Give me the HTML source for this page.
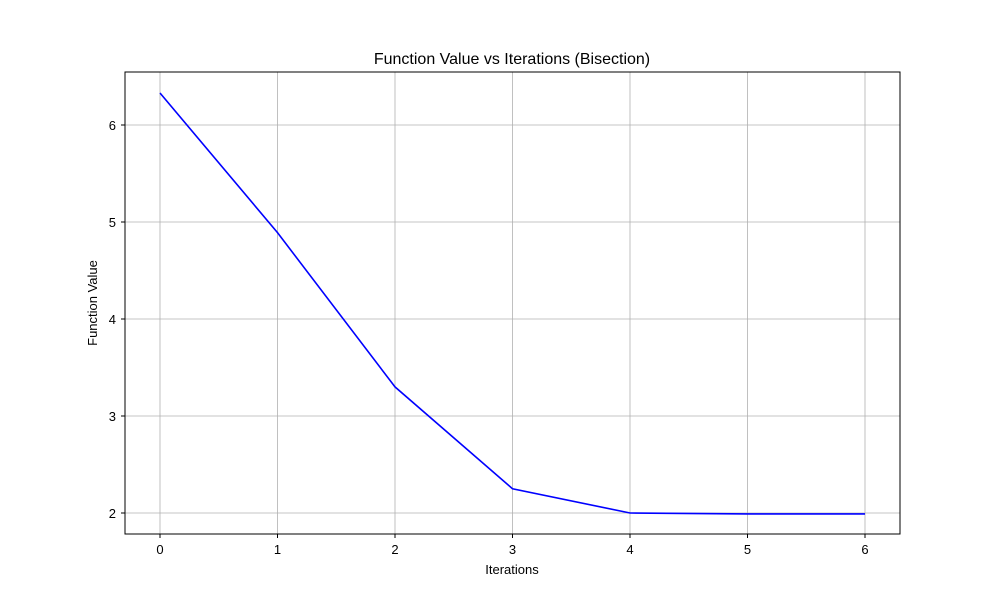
<!DOCTYPE html>
<html><head><meta charset="utf-8"><style>
body{margin:0;background:#fff;}
svg text{font-family:"Liberation Sans","DejaVu Sans",sans-serif;}
</style></head><body>
<svg id="chart" width="1000" height="600" xmlns="http://www.w3.org/2000/svg">
<rect width="1000" height="600" fill="#fff"/>
<text x="512" y="64" text-anchor="middle" font-size="16">Function Value vs Iterations (Bisection)</text>
<g id="grid"></g>
<g id="ticks"></g>
<path id="line" fill="none" stroke="#0000ff" stroke-width="1.6"/>
<rect x="125" y="72" width="775" height="462" fill="none" stroke="#000" stroke-width="1"/>
<text x="512" y="574" text-anchor="middle" font-size="13">Iterations</text>
<text transform="translate(97,303) rotate(-90)" text-anchor="middle" font-size="13">Function Value</text>
</svg>
<script>
const iterations = [0,1,2,3,4,5,6];
const values = [6.33,4.89,3.30,2.25,2.00,1.99,1.99];
const xTicks = [0,1,2,3,4,5,6];
const yTicks = [2,3,4,5,6];
const X = v => 160 + v*117.5;
const Y = v => 513 - (v-2)*97;
const ns = "http://www.w3.org/2000/svg";
const grid = document.getElementById('grid'), ticks = document.getElementById('ticks');
function mk(tag, attrs, parent){const e=document.createElementNS(ns,tag);for(const k in attrs)e.setAttribute(k,attrs[k]);parent.appendChild(e);return e;}
xTicks.forEach(t=>{
  const g=mk('line',{x1:X(t),x2:X(t),y1:72,y2:534,stroke:'#b0b0b0','stroke-width':0.8},grid);
  
  
  mk('line',{x1:X(t),x2:X(t),y1:534,y2:538,stroke:'#000'},ticks);
  const l=mk('text',{x:X(t),y:554,'text-anchor':'middle','font-size':13},ticks);
  l.textContent=t;
  
  
});
yTicks.forEach(t=>{
  const g=mk('line',{x1:125,x2:900,y1:Y(t),y2:Y(t),stroke:'#b0b0b0','stroke-width':0.8},grid);
  
  
  mk('line',{x1:121,x2:125,y1:Y(t),y2:Y(t),stroke:'#000'},ticks);
  const l=mk('text',{x:116,y:Y(t)+5,'text-anchor':'end','font-size':13},ticks);
  l.textContent=t;
  
  
});
document.getElementById('line').setAttribute('d', iterations.map((v,i)=>(i?'L':'M')+X(v)+','+Y(values[i])).join(' '));
</script>
</body></html>
